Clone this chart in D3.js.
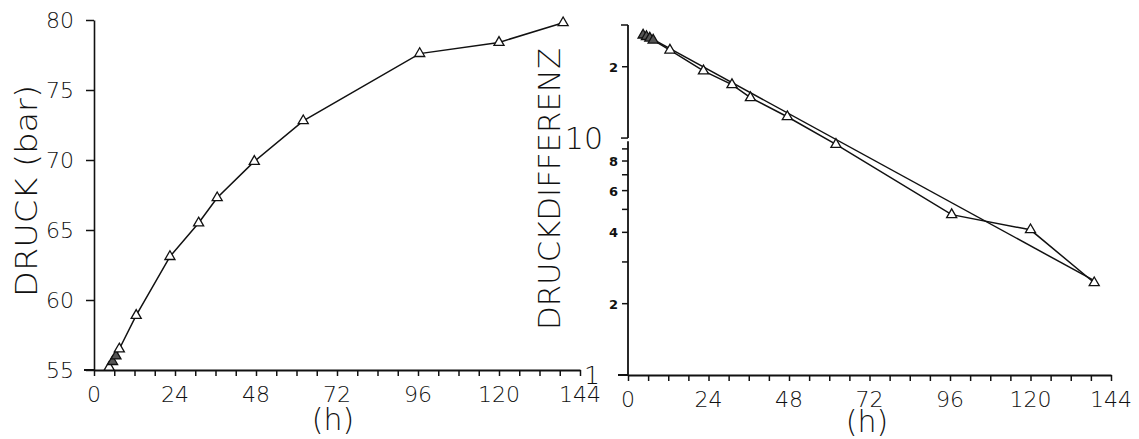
<!DOCTYPE html>
<html lang="de">
<head>
<meta charset="utf-8">
<title>Druck / Druckdifferenz</title>
<script src="https://cdn.jsdelivr.net/npm/d3@7"></script>
<style>
  body { margin: 0; background: #fff; }
  svg { display: block; }
  text { font-family: "DejaVu Sans", sans-serif; fill: #111; font-weight: 200; }
  .axis path, .axis line { stroke: #111; }
</style>
</head>
<body>
<div id="chart"></div>
<script>
// measurement times (h)
var hours = [4.5, 5.5, 6.5, 7.5, 12.5, 22.5, 31, 36.5, 47.5, 62, 96.5, 120, 139];
// pressure (bar)
var druck = [55.2, 55.6, 56.0, 56.5, 58.9, 63.1, 65.5, 67.3, 69.9, 72.8, 77.6, 78.4, 79.8];
// pressure difference (log plot)
var differenz = [27.2, 26.8, 26.4, 25.9, 23.5, 19.2, 16.8, 14.8, 12.3, 9.4, 4.75, 4.1, 2.45];
// straight fit line on the log plot
var fitHours = [4.5, 139];
var fitValues = [27.5, 2.5];

var hourTicks = [0, 24, 48, 72, 96, 120, 144];
var hourMinor = d3.range(0, 145, 6);
var druckTicks = [55, 60, 65, 70, 75, 80];
var diffSmallLabels = [2, 4, 6, 8, 20];
var diffMinor = [3, 5, 7, 9];
var diffBigLabels = [1, 10];

var w = 1139, h = 439;
var svg = d3.select("#chart").append("svg").attr("width", w).attr("height", h);

var tri = d3.symbol().type(d3.symbolTriangle).size(44);

//// left chart: DRUCK
var x1 = d3.scaleLinear().domain([0, 144]).range([94, 580]);
var y1 = d3.scaleLinear().domain([55, 80]).range([370, 20]);

var gx1 = svg.append("g").attr("class", "axis")
  .attr("transform", "translate(0," + y1(55) + ")")
  .call(d3.axisBottom(x1).tickValues(hourMinor).tickSize(6).tickSizeOuter(0).tickFormat(""));
gx1.select(".domain").attr("stroke-width", 2);
gx1.selectAll(".tick line").attr("stroke-width", 1.5);
gx1.append("line").attr("x1", x1(0) - 10).attr("x2", x1(0)).attr("stroke", "#111").attr("stroke-width", 2);
gx1.selectAll(".lbl").data(hourTicks).enter().append("text")
  .attr("x", function(d) { return x1(d); })
  .attr("y", 32)
  .attr("text-anchor", "middle")
  .style("font-size", "22px")
  .text(function(d) { return d; });

var gy1 = svg.append("g").attr("class", "axis")
  .attr("transform", "translate(" + x1(0) + ",0)")
  .call(d3.axisLeft(y1).tickValues(druckTicks).tickSize(8).tickPadding(12).tickSizeOuter(0));
gy1.select(".domain").attr("stroke-width", 1.6);
gy1.selectAll(".tick line").attr("stroke-width", 1.5);
gy1.selectAll(".tick text").style("font-size", "22px").attr("fill", "#111")
  .attr("font-family", "DejaVu Sans").attr("font-weight", 200);

var line1 = d3.line().x(function(d, i) { return x1(hours[i]); }).y(function(d) { return y1(d); });
svg.append("path").datum(druck).attr("d", line1)
  .attr("fill", "none").attr("stroke", "#111").attr("stroke-width", 1.5);

svg.selectAll(".m1").data(druck).enter().append("path")
  .attr("class", "m1")
  .attr("d", tri)
  .attr("transform", function(d, i) { return "translate(" + x1(hours[i]) + "," + y1(d) + ")"; })
  .attr("fill", function(d, i) { return (i == 1 || i == 2) ? "#555" : "#fff"; })
  .attr("stroke", "#111").attr("stroke-width", 1.3);

svg.append("text")
  .attr("transform", "translate(37,191) rotate(-90)")
  .attr("text-anchor", "middle")
  .attr("textLength", 212).attr("lengthAdjust", "spacingAndGlyphs")
  .style("font-size", "30px")
  .text("DRUCK (bar)");

svg.append("text")
  .attr("x", 333).attr("y", 430)
  .attr("text-anchor", "middle")
  .style("font-size", "30px")
  .text("(h)");

//// right chart: DRUCKDIFFERENZ (log)
var x2 = d3.scaleLinear().domain([0, 144]).range([628, 1111]);
var y2 = d3.scaleLog().domain([1, 30]).range([375, 25]);

var gx2 = svg.append("g").attr("class", "axis")
  .attr("transform", "translate(0," + y2(1) + ")")
  .call(d3.axisBottom(x2).tickValues(hourMinor).tickSize(6).tickSizeOuter(0).tickFormat(""));
gx2.select(".domain").attr("stroke-width", 2);
gx2.selectAll(".tick line").attr("stroke-width", 1.5);
gx2.append("line").attr("x1", x2(0) - 10).attr("x2", x2(0)).attr("stroke", "#111").attr("stroke-width", 2);
gx2.selectAll(".lbl").data(hourTicks).enter().append("text")
  .attr("x", function(d) { return x2(d); })
  .attr("y", 32)
  .attr("text-anchor", "middle")
  .style("font-size", "22px")
  .text(function(d) { return d; });

var gy2 = svg.append("g").attr("transform", "translate(" + x2(0) + ",0)");
// upper segment 10..30
gy2.append("line").attr("y1", y2(30)).attr("y2", y2(10)).attr("stroke", "#111").attr("stroke-width", 1.8);
// lower segment 1..10
gy2.append("line").attr("y1", y2(9.7)).attr("y2", y2(1)).attr("stroke", "#111").attr("stroke-width", 1.8);
gy2.selectAll(".t2").data([30, 20, 10].concat(diffSmallLabels.slice(0, 4), diffMinor)).enter().append("line")
  .attr("x1", function(d) { return (d == 30 || d == 10) ? -7 : -6; })
  .attr("x2", 0)
  .attr("y1", function(d) { return y2(d); })
  .attr("y2", function(d) { return y2(d); })
  .attr("stroke", "#111").attr("stroke-width", 1.5);
gy2.selectAll(".s2").data(diffSmallLabels).enter().append("text")
  .attr("x", -10)
  .attr("y", function(d) { return y2(d) + 5; })
  .attr("text-anchor", "end")
  .style("font-size", "13px").style("font-weight", "bold")
  .text(function(d) { return d == 20 ? "2" : d; });
gy2.selectAll(".b2").data(diffBigLabels).enter().append("text")
  .attr("x", function(d) { return d == 10 ? -25 : -28; })
  .attr("y", function(d) { return y2(d) + (d == 10 ? 11 : 9); })
  .attr("text-anchor", "end")
  .style("font-size", function(d) { return d == 10 ? "30px" : "25px"; })
  .text(function(d) { return d; });

var line2 = d3.line().x(function(d, i) { return x2(hours[i]); }).y(function(d) { return y2(d); });
svg.append("path").datum(differenz).attr("d", line2)
  .attr("fill", "none").attr("stroke", "#111").attr("stroke-width", 1.5);

var fitLine = d3.line().x(function(d, i) { return x2(fitHours[i]); }).y(function(d) { return y2(d); });
svg.append("path").datum(fitValues).attr("d", fitLine)
  .attr("fill", "none").attr("stroke", "#111").attr("stroke-width", 1.5);

svg.selectAll(".m2").data(differenz).enter().append("path")
  .attr("class", "m2")
  .attr("d", tri)
  .attr("transform", function(d, i) { return "translate(" + x2(hours[i]) + "," + y2(d) + ")"; })
  .attr("fill", function(d, i) { return i < 4 ? "#555" : "#fff"; })
  .attr("stroke", "#111").attr("stroke-width", 1.3);

svg.append("text")
  .attr("transform", "translate(560,189) rotate(-90)")
  .attr("text-anchor", "middle")
  .attr("textLength", 282).attr("lengthAdjust", "spacingAndGlyphs")
  .style("font-size", "30px")
  .text("DRUCKDIFFERENZ");

svg.append("text")
  .attr("x", 867).attr("y", 432)
  .attr("text-anchor", "middle")
  .style("font-size", "30px")
  .text("(h)");
</script>
</body>
</html>
